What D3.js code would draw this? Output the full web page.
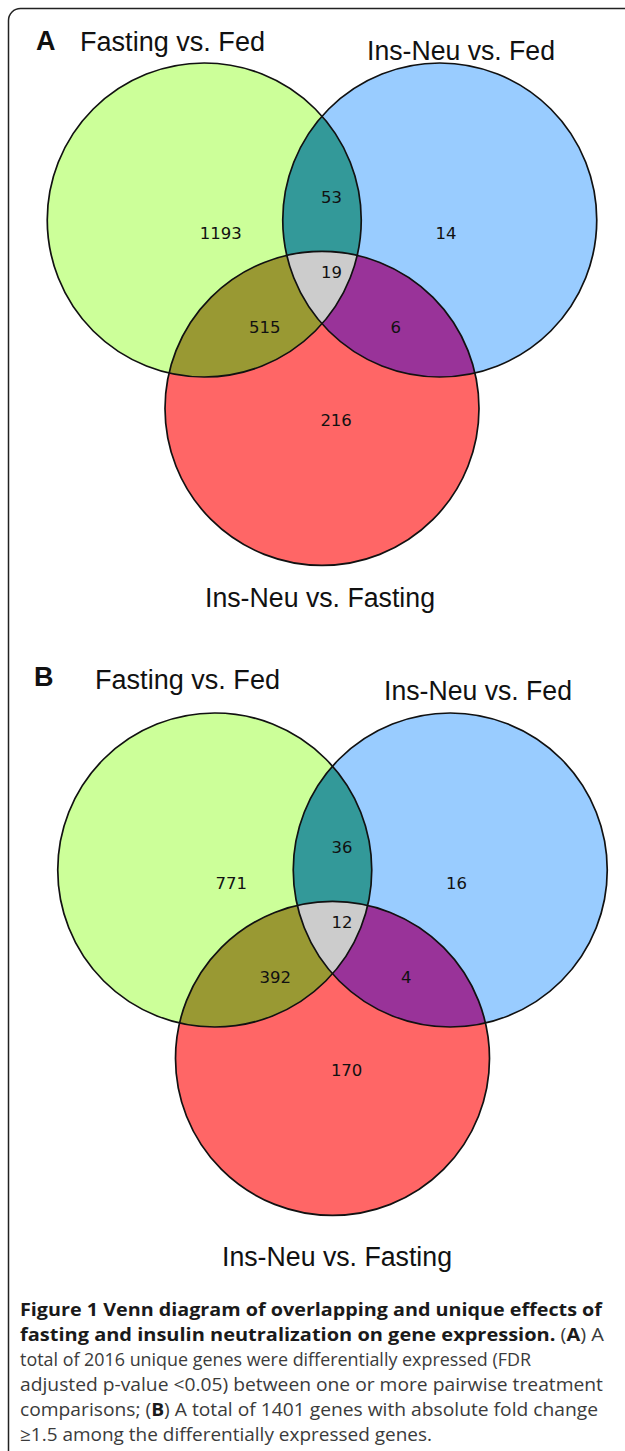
<!DOCTYPE html>
<html>
<head>
<meta charset="utf-8">
<script src="https://cdn.jsdelivr.net/npm/d3@7"></script>
<style>
  body { margin: 0; background: #fff; }
  svg { display: block; }
</style>
</head>
<body>
<svg id="chart"></svg>
<script>
// set names, region keys (green/blue/red membership) and counts
const setNames = ["Fasting vs. Fed", "Ins-Neu vs. Fed", "Ins-Neu vs. Fasting"];
const regionKeys = ["100", "010", "001", "110", "101", "011", "111"];
const countsA = [1193, 14, 216, 53, 515, 6, 19];
const countsB = [771, 16, 170, 36, 392, 4, 12];
const panelLetters = ["A", "B"];

const captionLines = [
  [["b", "Figure 1 Venn diagram of overlapping and unique effects of"]],
  [["b", "fasting and insulin neutralization on gene expression."], ["r", " ("], ["b", "A"], ["r", ") A"]],
  [["r", "total of 2016 unique genes were differentially expressed (FDR"]],
  [["r", "adjusted p-value <0.05) between one or more pairwise treatment"]],
  [["r", "comparisons; ("], ["b", "B"], ["r", ") A total of 1401 genes with absolute fold change"]],
  [["r", "\u22651.5 among the differentially expressed genes."]]
];

const width = 625, height = 1451;
const svg = d3.select("#chart").attr("width", width).attr("height", height);

// frame, open to the right and bottom (cropped)
svg.append("rect")
  .attr("x", 8.5).attr("y", 8.5)
  .attr("width", 660).attr("height", 1500)
  .attr("rx", 12)
  .attr("fill", "none")
  .attr("stroke", "#222")
  .attr("stroke-width", 1.5);

const regionColor = {
  "100": "#ccff99", "010": "#99ccff", "001": "#ff6666",
  "110": "#339999", "101": "#999933", "011": "#993399", "111": "#cccccc"
};

// layout in units of the circle radius, origin midway between the top two centres
const centres = [[-0.75, 0], [0.75, 0], [0, 1.2]];
const labelPos = {
  "100": [-0.645, 0.083], "010": [0.79, 0.083], "001": [0.09, 1.274],
  "110": [0.06, -0.146], "101": [-0.365, 0.682], "011": [0.47, 0.682], "111": [0.06, 0.33]
};

const panels = [
  { letter: panelLetters[0], counts: countsA, ox: 322, oy: 220, r: 157,
    letterPos: [36, 50], t1: [80, 51], t2: [367, 60], t3: [320, 607] },
  { letter: panelLetters[1], counts: countsB, ox: 332.5, oy: 870, r: 157,
    letterPos: [34, 686], t1: [95, 689], t2: [384, 700], t3: [337, 1266] }
];

const titleFont = "'Liberation Sans', Arial, sans-serif";

panels.forEach((p, pi) => {
  const x = d3.scaleLinear().domain([0, 1]).range([p.ox, p.ox + p.r]);
  const y = d3.scaleLinear().domain([0, 1]).range([p.oy, p.oy + p.r]);
  const rad = x(1) - x(0);
  const g = svg.append("g");
  const defs = g.append("defs");

  centres.forEach((c, i) => {
    defs.append("clipPath").attr("id", `clip${pi}-${i}`)
      .append("circle").attr("cx", x(c[0])).attr("cy", y(c[1])).attr("r", rad);
  });

  const circ = (sel, i) => sel.append("circle")
    .attr("cx", x(centres[i][0])).attr("cy", y(centres[i][1])).attr("r", rad);

  // single sets
  [0, 1, 2].forEach(i => circ(g, i).attr("fill", regionColor[regionKeys[i]]));
  // pairwise overlaps
  [[0, 1, "110"], [0, 2, "101"], [1, 2, "011"]].forEach(([a, b, k]) => {
    circ(g.append("g").attr("clip-path", `url(#clip${pi}-${a})`), b)
      .attr("fill", regionColor[k]);
  });
  // triple overlap
  circ(g.append("g").attr("clip-path", `url(#clip${pi}-0)`)
        .append("g").attr("clip-path", `url(#clip${pi}-1)`), 2)
    .attr("fill", regionColor["111"]);
  // outlines
  [0, 1, 2].forEach(i => circ(g, i).attr("fill", "none")
    .attr("stroke", "#111").attr("stroke-width", 1.7));

  // counts
  g.selectAll("text.count")
    .data(regionKeys.map((k, i) => ({ k, v: p.counts[i] })))
    .enter().append("text")
    .attr("class", "count")
    .attr("x", d => x(labelPos[d.k][0]))
    .attr("y", d => y(labelPos[d.k][1]))
    .attr("dy", "0.36em")
    .attr("text-anchor", "middle")
    .attr("font-family", "'DejaVu Sans', Verdana, sans-serif")
    .attr("font-size", 16.5)
    .attr("fill", "#111")
    .text(d => d.v);

  // panel letter and set titles
  g.append("text").attr("x", p.letterPos[0]).attr("y", p.letterPos[1])
    .attr("font-family", titleFont).attr("font-weight", "bold").attr("font-size", 27)
    .attr("fill", "#111").text(p.letter);
  g.append("text").attr("x", p.t1[0]).attr("y", p.t1[1])
    .attr("font-family", titleFont).attr("font-size", 27).attr("fill", "#111")
    .attr("textLength", 185).attr("lengthAdjust", "spacingAndGlyphs")
    .text(setNames[0]);
  g.append("text").attr("x", p.t2[0]).attr("y", p.t2[1])
    .attr("font-family", titleFont).attr("font-size", 27).attr("fill", "#111")
    .attr("textLength", 188).attr("lengthAdjust", "spacingAndGlyphs")
    .text(setNames[1]);
  g.append("text").attr("x", p.t3[0] - 115).attr("y", p.t3[1])
    .attr("font-family", titleFont).attr("font-size", 27).attr("fill", "#111")
    .attr("textLength", 230).attr("lengthAdjust", "spacingAndGlyphs")
    .text(setNames[2]);
});

// caption
const capWidths = [582, 584, 511, 583, 578, 412];
const cap = svg.append("g").attr("font-family", "'Open Sans', 'Noto Sans', sans-serif");
captionLines.forEach((line, i) => {
  const t = cap.append("text")
    .attr("x", 20).attr("y", 1316 + i * 25)
    .attr("font-size", 18)
    .attr("textLength", capWidths[i]).attr("lengthAdjust", "spacingAndGlyphs");
  line.forEach(([w, s]) => {
    t.append("tspan")
      .attr("font-weight", w === "b" ? "bold" : "normal")
      .attr("fill", w === "b" ? "#1a1a1a" : "#3b3b3b")
      .text(s);
  });
});
</script>
</body>
</html>
